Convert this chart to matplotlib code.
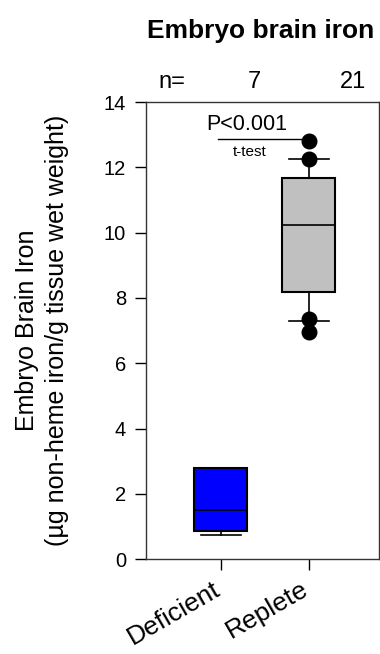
import matplotlib.pyplot as plt
import matplotlib
from matplotlib.transforms import ScaledTranslation

matplotlib.rcParams['font.family'] = ['Liberation Sans', 'DejaVu Sans']
matplotlib.rcParams['font.size'] = 14

# Box summary values
groups = ["Deficient", "Replete"]
n_counts = ["7", "21"]
q1 = [0.87, 8.18]
med = [1.50, 10.22]
q3 = [2.80, 11.68]
whislo = [0.74, 7.30]
whishi = [2.80, 12.24]
fliers = [[], [6.96, 7.34, 12.26, 12.82]]
colors = ["#0000ff", "#c0c0c0"]

stats = []
for i in range(len(groups)):
    stats.append(dict(label=groups[i], q1=q1[i], med=med[i], q3=q3[i],
                      whislo=whislo[i], whishi=whishi[i], fliers=fliers[i]))

fig = plt.figure(figsize=(3.8, 6.54), dpi=100)
ax = fig.add_axes([0.383, 0.145, 0.614, 0.699])

bp = ax.bxp(stats, positions=[1, 2], widths=0.6, patch_artist=True,
            showcaps=True,
            boxprops=dict(linewidth=1.5, edgecolor="k"),
            medianprops=dict(color="k", linewidth=1.2),
            whiskerprops=dict(color="k", linewidth=1.2),
            capprops=dict(color="k", linewidth=1.2),
            flierprops=dict(marker="o", markerfacecolor="k",
                            markeredgecolor="k", markersize=10.5))
for patch, c in zip(bp["boxes"], colors):
    patch.set_facecolor(c)
for cap in bp["caps"]:
    x0, x1 = cap.get_xdata()
    xm = (x0 + x1) / 2
    cap.set_xdata([xm - 0.225, xm + 0.225])

ax.set_xlim(0.144, 2.795)
ax.set_ylim(0, 14)
ax.set_yticks(range(0, 15, 2))
ax.set_xticks([1, 2])
ax.set_xticklabels(groups, rotation=30, ha="right", rotation_mode="anchor",
                   fontsize=19)
ax.tick_params(direction="out", length=8, width=1)
ax.tick_params(axis="y", labelsize=14.5, pad=6)
ax.tick_params(axis="x", pad=5)
shift = ScaledTranslation(-6 / 72, 0, fig.dpi_scale_trans)
for lab in ax.get_xticklabels():
    lab.set_transform(lab.get_transform() + shift)
for s in ax.spines.values():
    s.set_color("#333333")
    s.set_linewidth(1)

ax.set_ylabel("Embryo Brain Iron\n(\u00b5g non-heme iron/g tissue wet weight)",
              fontsize=18, labelpad=25, linespacing=1.3)

# n counts above the plot
ax.text(0.44, 14.6, "n=", ha="center", va="center", fontsize=17)
ax.text(1.386, 14.6, n_counts[0], ha="center", va="center", fontsize=17)
ax.text(2.5, 14.6, n_counts[1], ha="center", va="center", fontsize=17)

# significance annotation
ax.text(1.29, 13.3, "P<0.001", ha="center", va="center", fontsize=15.5)
ax.plot([0.966, 1.99], [12.87, 12.87], color="k", lw=1)
ax.text(1.33, 12.46, "t-test", ha="center", va="center", fontsize=11)

fig.text(0.687, 0.952, "Embryo brain iron", ha="center", va="center",
         fontsize=19, fontweight="bold")

fig.savefig("out.png", dpi=100)
